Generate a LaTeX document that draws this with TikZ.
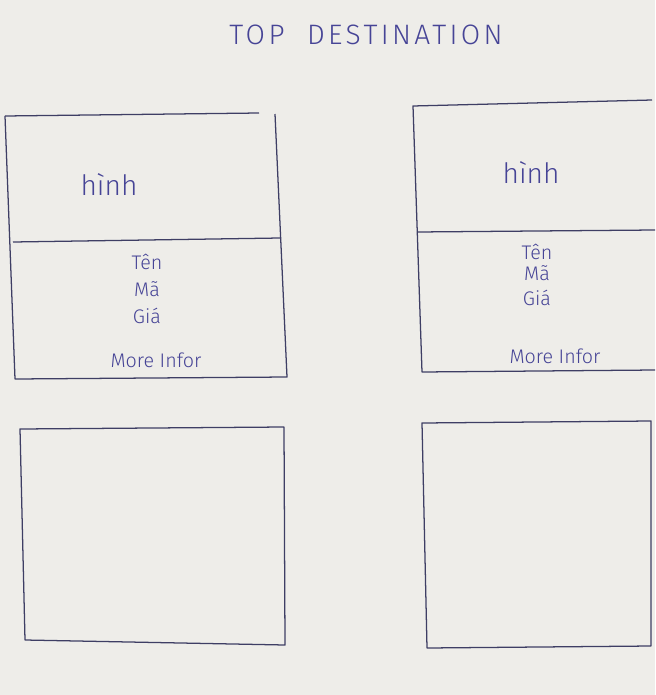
\documentclass[tikz,border=0pt]{standalone}
\usepackage{fontspec}
\setmainfont{Fira Sans Light}
\usetikzlibrary{positioning}
\definecolor{ink}{RGB}{70,68,150}
\definecolor{pencil}{RGB}{62,62,100}
\definecolor{paper}{RGB}{238,237,233}

\begin{document}
\begin{tikzpicture}[x=0.05cm,y=-0.05cm,
    frame/.style={draw=pencil,line width=1.8pt,line join=round},
    hand/.style={text=ink,inner sep=0pt},
    title/.style={hand,font=\fontsize{40}{44}\selectfont\addfontfeatures{LetterSpace=12}},
    pic/.style={hand,font=\fontsize{40}{44}\selectfont},
    info/.style={hand,font=\fontsize{28}{32}\selectfont},
    more/.style={hand,font=\fontsize{28}{32}\selectfont}]

  \fill[paper] (0,0) rectangle (655,695);
  \useasboundingbox (0,0) rectangle (655,695);

  \node[title] (head) at (366,35) {TOP\hspace{0.8em}DESTINATION};

  % first card, top left
  \draw[frame] (5,116) -- (259,113);
  \draw[frame] (275,114) -- (287,377) -- (15,379) -- (5,116);
  \draw[frame] (13,242) -- (280,238);
  \node[pic] (pic1) at (109,185) {hình};
  \node[info] (ten1) at (147,262) {Tên};
  \node[info, below=0.6cm of ten1] (ma1) {Mã};
  \node[info, below=0.55cm of ma1] (gia1) {Giá};
  \node[more] (more1) at (156,360) {More Infor};

  % second card, top right
  \draw[frame] (652,100) -- (413,106) -- (422,372) -- (655,370);
  \draw[frame] (417,232) -- (655,230);
  \node[pic] (pic2) at (531,173) {hình};
  \node[info] (ten2) at (537,252) {Tên};
  \node[info, below=0.3cm of ten2] (ma2) {Mã};
  \node[info, below=0.45cm of ma2] (gia2) {Giá};
  \node[more] (more2) at (555,356) {More Infor};

  % empty cards below
  \draw[frame] (20,429) -- (284,427) -- (285,645) -- (25,640) -- cycle;
  \draw[frame] (422,423) -- (651,421) -- (651,646) -- (427,648) -- cycle;
\end{tikzpicture}
\end{document}
